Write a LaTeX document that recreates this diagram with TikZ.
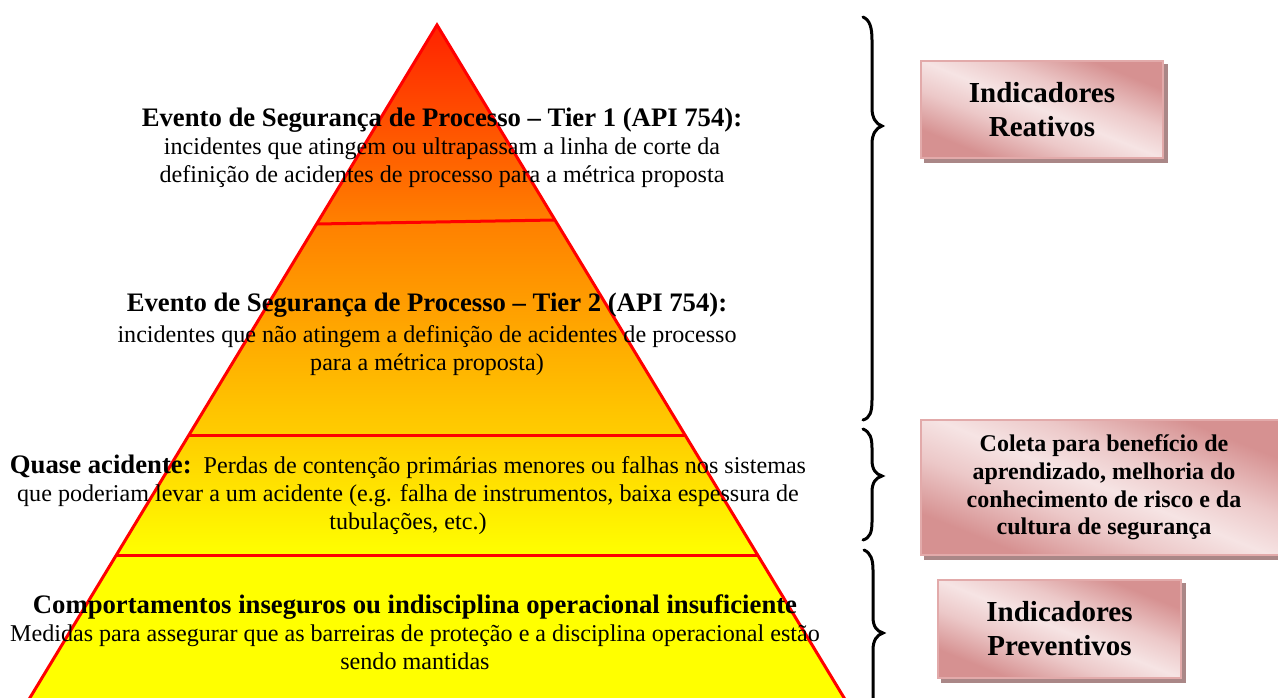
\documentclass[tikz,border=0pt]{standalone}
\usepackage{fontspec}
\setmainfont{Liberation Serif}
\usetikzlibrary{backgrounds}

\definecolor{pyrA}{RGB}{255,32,0}
\definecolor{pyrB}{RGB}{255,128,0}
\definecolor{pyrC}{RGB}{255,205,0}
\definecolor{pyrD}{RGB}{255,255,0}
\definecolor{pyrEdge}{RGB}{255,0,0}
\definecolor{boxDark}{RGB}{214,145,145}
\definecolor{boxMid}{RGB}{236,200,200}
\definecolor{boxLight}{RGB}{246,228,228}
\definecolor{boxEdge}{RGB}{226,170,170}
\definecolor{boxShadow}{RGB}{170,135,135}

% soft diagonal sheen for the indicator boxes
\pgfdeclareverticalshading{boxsheen}{100bp}{color(0bp)=(boxDark); color(27bp)=(boxDark);
  color(40bp)=(boxMid); color(50bp)=(boxLight); color(60bp)=(boxMid);
  color(73bp)=(boxDark); color(100bp)=(boxDark)}

\tikzset{
  pyrline/.style={draw=pyrEdge, line width=3pt},
  bodytext/.style={align=center, inner sep=0pt,
    font=\fontsize{24.1}{28}\selectfont},
  indbox/.style={draw=boxEdge, line width=1.5pt, align=center,
    shade, shading=boxsheen, shading angle=-22},
  boxshadow/.style={fill=boxShadow},
  bracestroke/.style={draw=black, line width=3pt, line cap=round},
}

\begin{document}
\begin{tikzpicture}[x=1pt,y=-1pt]
\useasboundingbox (0,0) rectangle (1278,698);

% pyramid outline points
\coordinate (apex) at (437,25);
\coordinate (baseL) at (25.6,705);
\coordinate (baseR) at (848.4,705);

% gradient fill, red at the tip to yellow at the base
\begin{scope}
  \clip (apex) -- (baseL) -- (baseR) -- cycle;
  \shade[top color=pyrA, bottom color=pyrB] (0,20) rectangle (1278,222);
  \shade[top color=pyrB, bottom color=pyrC] (0,222) rectangle (1278,435);
  \shade[top color=pyrC, bottom color=pyrD] (0,435) rectangle (1278,555);
  \fill[pyrD] (0,555) rectangle (1278,710);
\end{scope}

% level dividers
\coordinate (d1l) at (316.6,224); \coordinate (d1r) at (555,220);
\coordinate (d2l) at (189,435);   \coordinate (d2r) at (685,435);
\coordinate (d3l) at (116.3,555); \coordinate (d3r) at (757.7,555);
\draw[pyrline] (d1l) -- (d1r);
\draw[pyrline] (d2l) -- (d2r);
\draw[pyrline] (d3l) -- (d3r);
\draw[pyrline, line join=miter] (baseL) -- (apex) -- (baseR);

% level texts
\node[bodytext] (t1) at (442,148) {{\bfseries\fontsize{26.7}{28}\selectfont Evento de Segurança de Processo – Tier 1 (API 754):}\\
incidentes que atingem ou ultrapassam a linha de corte da\\
definição de acidentes de processo para a métrica proposta};

\node[bodytext] (t2) at (427,334) {{\bfseries\fontsize{26.7}{28}\selectfont Evento de Segurança de Processo – Tier 2 (API 754):}\\[3pt]
incidentes que não atingem a definição de acidentes de processo\\
para a métrica proposta)};

\node[bodytext] (t3) at (408,495) {{\bfseries\fontsize{26.7}{28}\selectfont Quase acidente:}\ \ Perdas de contenção primárias menores ou falhas nos sistemas\\
que poderiam levar a um acidente (e.g. falha de instrumentos, baixa espessura de\\
tubulações, etc.)};

\node[bodytext] (t4) at (415,632) {{\bfseries\fontsize{26.7}{28}\selectfont Comportamentos inseguros ou indisciplina operacional insuficiente}\\
Medidas para assegurar que as barreiras de proteção e a disciplina operacional estão\\
sendo mantidas};

% braces
\draw[bracestroke] (863,17) .. controls (870,20) and (872,28) .. (872,40) -- (872,108)
  .. controls (872,118) and (876,124) .. (882,126)
  .. controls (876,128) and (872,134) .. (872,144) -- (872,400)
  .. controls (872,412) and (870,418) .. (863,420);
\draw[bracestroke] (863,429) .. controls (870,432) and (872,438) .. (872,448) -- (872,460)
  .. controls (872,470) and (876,474) .. (882,476)
  .. controls (876,478) and (872,482) .. (872,492) -- (872,522)
  .. controls (872,532) and (870,538) .. (863,540);
\draw[bracestroke] (864,550) .. controls (871,553) and (873,560) .. (873,570) -- (873,617)
  .. controls (873,627) and (877,631) .. (883,633)
  .. controls (877,635) and (873,640) .. (873,650) -- (873,698)
  .. controls (873,708) and (871,714) .. (864,716);

% indicator boxes
\node[indbox, minimum width=242pt, minimum height=97pt,
  font=\bfseries\fontsize{29}{34}\selectfont] (b1) at (1042,109.5) {Indicadores\\Reativos};
\node[indbox, minimum width=366pt, minimum height=135pt,
  font=\bfseries\fontsize{24}{27.7}\selectfont] (b2) at (1104,487.5)
  {Coleta para benefício de\\aprendizado, melhoria do\\conhecimento de risco e da\\cultura de segurança};
\node[indbox, minimum width=243pt, minimum height=98pt,
  font=\bfseries\fontsize{29}{34}\selectfont] (b3) at (1059.5,629) {Indicadores\\Preventivos};

% box shadows, offset down and to the right
\begin{scope}[on background layer]
  \foreach \b in {b1,b2,b3}
    \fill[boxshadow] ([shift={(4,4)}]\b.north west) rectangle ([shift={(4,4)}]\b.south east);
\end{scope}
\end{tikzpicture}
\end{document}
